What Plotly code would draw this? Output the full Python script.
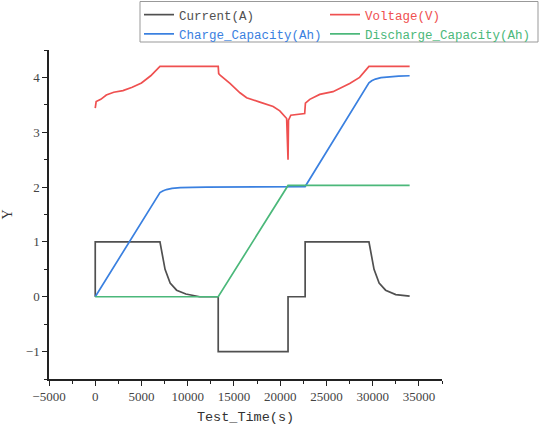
import plotly.graph_objects as go

# ---- data ----
current_t = [0, 0, 7000, 7200, 7550, 8100, 8800, 9800, 10800, 11300, 13300, 13300,
             20850, 20850, 22700, 22700, 29600, 29800, 30150, 30700, 31400, 32500, 33500, 34000]
current_v = [0, 1, 1, 0.80, 0.50, 0.25, 0.12, 0.05, 0.02, 0.0, 0, -1,
             -1, 0, 0, 1, 1, 0.80, 0.50, 0.25, 0.12, 0.04, 0.02, 0.01]

voltage_t = [0, 100, 600, 1200, 2000, 3000, 4000, 5000, 6000, 7000, 13300, 13350, 13500,
             14570, 15650, 16370, 17800, 19240, 19960, 20390, 20700, 20850, 20900, 21150,
             22650, 22730, 23200, 24280, 25710, 27520, 28590, 29600, 34000]
voltage_v = [3.44, 3.56, 3.60, 3.68, 3.73, 3.76, 3.82, 3.90, 4.03, 4.20, 4.20, 4.07, 4.04,
             3.89, 3.72, 3.63, 3.55, 3.47, 3.39, 3.31, 3.25, 2.50, 3.22, 3.31,
             3.34, 3.53, 3.60, 3.69, 3.74, 3.89, 4.00, 4.20, 4.20]

charge_t = [0, 7000, 7300, 7700, 8300, 9200, 10500, 12000, 22700, 29600, 29900, 30300,
            30900, 31800, 32800, 34000]
charge_v = [0, 1.90, 1.93, 1.955, 1.975, 1.99, 1.995, 2.0, 2.01, 3.90, 3.94, 3.97,
            3.995, 4.01, 4.025, 4.03]

discharge_t = [0, 13300, 20850, 34000]
discharge_v = [0, 0, 2.03, 2.03]

names = ["Current(A)", "Voltage(V)", "Charge_Capacity(Ah)", "Discharge_Capacity(Ah)"]
colors = ["#505050", "#EF5050", "#3A80E0", "#4BB87A"]

# ---- layout geometry (pixels) ----
W, H = 541, 432
L, R, T, B = 49, 99, 50, 53
PW, PH = W - L - R, H - T - B

def px_x(p):
    return (p - L) / PW

def px_y(p):
    return 1 + (T - p) / PH

fig = go.Figure()
series = [(current_t, current_v), (voltage_t, voltage_v), (charge_t, charge_v), (discharge_t, discharge_v)]
legends = ["legend", "legend2", "legend", "legend2"]
for (tx, vy), nm, col, lg in zip(series, names, colors, legends):
    fig.add_trace(go.Scatter(
        x=tx, y=vy, mode="lines", line=dict(color=col, width=1.7),
        name=f"<span style='color:{col}'>{nm}</span>", legend=lg))

tickfont = dict(family="Liberation Serif, serif", size=13, color="#444444")
mono = "Liberation Mono"

fig.update_layout(
    width=W, height=H,
    margin=dict(l=L, r=R, t=T, b=B, pad=0, autoexpand=False),
    paper_bgcolor="white", plot_bgcolor="white",
    showlegend=True,
    legend=dict(x=px_x(139), y=px_y(0), xanchor="left", yanchor="top",
                bgcolor="rgba(0,0,0,0)", borderwidth=0,
                font=dict(family=mono, size=12.5), tracegroupgap=0),
    legend2=dict(x=px_x(325), y=px_y(0), xanchor="left", yanchor="top",
                 bgcolor="rgba(0,0,0,0)", borderwidth=0,
                 font=dict(family=mono, size=12.5), tracegroupgap=0),
    shapes=[dict(type="rect", xref="paper", yref="paper",
                 x0=px_x(140), x1=px_x(538), y0=px_y(42), y1=px_y(1.5),
                 line=dict(color="#999999", width=1), fillcolor="rgba(0,0,0,0)")],
)

fig.update_xaxes(
    range=[-5000, 37500], dtick=5000, tick0=0, showgrid=False, zeroline=False,
    showline=True, linecolor="#222222", linewidth=1.5,
    ticks="outside", ticklen=5, tickwidth=1.3, tickcolor="#222222",
    minor=dict(dtick=2500, ticks="outside", ticklen=3, tickwidth=1.2, tickcolor="#222222"),
    tickformat="d", tickfont=tickfont,
    title=dict(text="Test_Time(s)", font=dict(family=mono, size=13.5, color="#333333"), standoff=8),
)
fig.update_yaxes(
    range=[-1.5, 4.5], dtick=1, tick0=0, showgrid=False, zeroline=False,
    showline=True, linecolor="#222222", linewidth=1.5,
    ticks="outside", ticklen=5, tickwidth=1.3, tickcolor="#222222",
    minor=dict(dtick=0.5, ticks="outside", ticklen=3, tickwidth=1.2, tickcolor="#222222"),
    tickfont=tickfont,
    title=dict(text="Y", font=dict(family="Liberation Serif, serif", size=14, color="#333333"), standoff=10),
)

fig.write_html("out.html", config={"displayModeBar": False},
               post_script="document.body.style.margin='0';")
